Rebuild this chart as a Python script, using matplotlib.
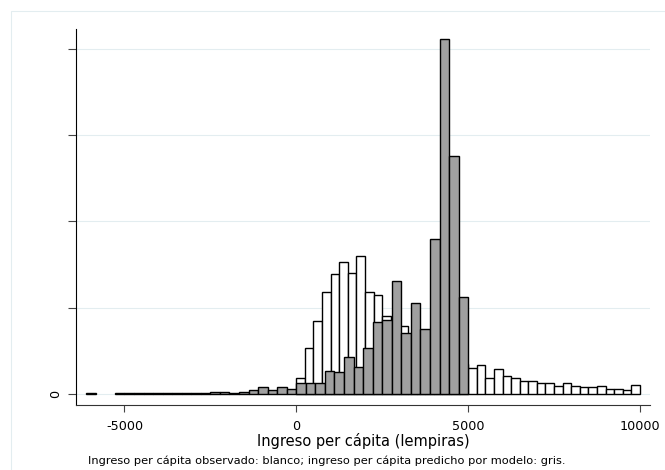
import numpy as np
import matplotlib
matplotlib.use('Agg')
import matplotlib.pyplot as plt
from matplotlib.patches import Rectangle

plt.rcParams['font.family'] = ['DejaVu Sans']

# densidad (x 1e-4) por intervalo, 40 intervalos cada histograma
# ingreso predicho por modelo (gris): de -6111 a 5000
pred_min = -6111.1
pred_max = 5000
pred_dens = [0.012, 0, 0, 0.012, 0.012, 0.012, 0.012, 0.012, 0.012, 0.012,
             0.024, 0.024, 0.016, 0.04, 0.04, 0.03, 0.054, 0.088, 0.162, 0.088,
             0.158, 0.112, 0.244, 0.254, 0.266, 0.526, 0.51, 0.864, 0.618, 1.074,
             1.662, 1.708, 2.626, 1.42, 2.102, 1.506, 3.586, 8.22, 5.522, 2.254]

# ingreso observado (blanco): de 0 a 10000
obs_min = 0
obs_max = 10000
obs_dens = [0.378, 1.066, 1.688, 2.356, 2.788, 3.052, 2.812, 3.21, 2.37, 2.302,
            1.814, 1.66, 1.576, 1.36, 1.2, 1.06, 0.96, 0.86, 0.78, 0.70,
            0.602, 0.672, 0.37, 0.568, 0.422, 0.376, 0.29, 0.302, 0.262, 0.262,
            0.178, 0.262, 0.178, 0.158, 0.158, 0.186, 0.12, 0.12, 0.088, 0.202]

xticks = [-5000, 0, 5000, 10000]
yticks = [0, 2, 4, 6, 8]
xlabel = 'Ingreso per cápita (lempiras)'
note = 'Ingreso per cápita observado: blanco; ingreso per cápita predicho por modelo: gris.'

grid_col = '#e3edf0'

fig = plt.figure(figsize=(6.65, 4.70), dpi=100)
ax = fig.add_axes([76 / 665, 1 - 405 / 470, (650 - 76) / 665, (405 - 29) / 470])

# marco exterior tenue
fig.patches.append(Rectangle((11 / 665, -0.05), 1.1, 1 - 11 / 470 + 0.05,
                             transform=fig.transFigure, fill=False,
                             edgecolor=grid_col, linewidth=0.8, zorder=0))

for t in yticks:
    ax.axhline(t, color=grid_col, linewidth=0.8, zorder=0)

obs_edges = np.linspace(obs_min, obs_max, len(obs_dens) + 1)
pred_edges = np.linspace(pred_min, pred_max, len(pred_dens) + 1)

obs = np.array(obs_dens)
pred = np.array(pred_dens)
m = obs > 0
ax.bar(obs_edges[:-1][m], obs[m], width=np.diff(obs_edges)[m], align='edge',
       color='white', edgecolor='black', linewidth=1.0, zorder=2)
m = pred > 0
ax.bar(pred_edges[:-1][m], pred[m], width=np.diff(pred_edges)[m], align='edge',
       color='#a0a0a0', edgecolor='black', linewidth=1.0, zorder=3)

ax.set_xlim(-6410, 10291)
ax.set_ylim(-0.255, 8.46)

ax.set_xticks(xticks)
ax.set_xticklabels([str(v) for v in xticks], fontsize=9.2)
ax.set_yticks(yticks)
ax.set_yticklabels(['0', '', '', '', ''], fontsize=9.2, rotation=90, va='center')

ax.spines['top'].set_visible(False)
ax.spines['right'].set_visible(False)
ax.spines['left'].set_color('black')
ax.spines['bottom'].set_color('#333333')
ax.tick_params(axis='y', length=6, width=0.8, color='#444444', pad=4)
ax.tick_params(axis='x', length=5, width=0.8, color='#444444', pad=6)

ax.set_xlabel(xlabel, fontsize=10.5, labelpad=0)
fig.text(88 / 665, 1 - 461 / 470, note, fontsize=8.2, ha='left', va='center')

plt.savefig('out.png', dpi=100)
